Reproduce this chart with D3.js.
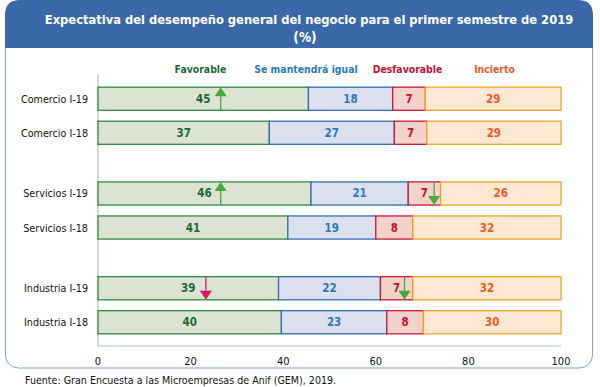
<!DOCTYPE html>
<html>
<head>
<meta charset="utf-8">
<script src="https://cdn.jsdelivr.net/npm/d3@7"></script>
<style>
  body { margin:0; background:#fff; }
  svg text { font-family:"DejaVu Sans Condensed","DejaVu Sans",sans-serif; }
</style>
</head>
<body>
<div id="chart-area"></div>
<script>
// data
var sectors = ["Comercio","Servicios","Industria"];
var periods = ["I-19","I-18"];
var seriesNames = ["Favorable","Se mantendrá igual","Desfavorable","Incierto"];
var favorable    = [45,37,46,41,39,40];
var igual        = [18,27,21,19,22,23];
var desfavorable = [7,7,7,8,7,8];
var incierto     = [29,29,26,32,32,30];
var xTicks = [0,20,40,60,80,100];
// change arrows (row, position on axis, direction, good/bad)
var arrowRows = ["Comercio I-19","Servicios I-19","Servicios I-19","Industria I-19","Industria I-19"];
var arrowAt   = [26.5,26.5,72.6,23.3,66.2];
var arrowDir  = ["up","up","down","down","down"];
var arrowKind = ["good","good","good","bad","good"];

var W=600,H=387;
var svg=d3.select("#chart-area").append("svg").attr("width",W).attr("height",H);

// frame + header
svg.append("rect").attr("x",5.5).attr("y",4).attr("width",587).attr("height",364)
   .attr("rx",13).attr("fill","#fff").attr("stroke","#7f9fd0").attr("stroke-width",1);
var r=15, hx0=5, hx1=593, hy=48;
svg.append("path")
   .attr("d","M"+hx0+","+hy+" V"+r+" Q"+hx0+",0 "+(hx0+r)+",0 H"+(hx1-r)+" Q"+hx1+",0 "+hx1+","+r+" V"+hy+" Z")
   .attr("fill","#3b68a8");
svg.append("text").attr("x",309).attr("y",24).attr("text-anchor","middle")
   .attr("fill","#fff").style("font-size","12.8px").style("font-weight","bold")
   .text("Expectativa del desempeño general del negocio para el primer semestre de 2019");
svg.append("text").attr("x",305).attr("y",42).attr("text-anchor","middle")
   .attr("fill","#fff").style("font-size","13.5px").style("font-weight","bold")
   .text("(%)");

// rows
var rows=[];
sectors.forEach(function(s,i){
  periods.forEach(function(p,j){
    var k=i*2+j;
    rows.push({sector:s,period:p,name:s+" "+p,
      "Favorable":favorable[k],"Se mantendrá igual":igual[k],
      "Desfavorable":desfavorable[k],"Incierto":incierto[k]});
  });
});

var x=d3.scaleLinear().domain([0,100]).range([98,561]);
var y0=d3.scaleBand().domain(sectors).range([75,346]).paddingInner(0.3).paddingOuter(0.08);
var y1=d3.scaleBand().domain(periods).range([0,y0.bandwidth()]).paddingInner(0.32).paddingOuter(0.135);
function rowY(d){ return y0(d.sector)+y1(d.period); }

var fills=d3.scaleOrdinal().domain(seriesNames).range(["#dce3d3","#dcdfed","#f2d3cc","#fde9d3"]);
var strokes=d3.scaleOrdinal().domain(seriesNames).range(["#2e8a3e","#2f6fb3","#c8183a","#f5a326"]);
var textCol=d3.scaleOrdinal().domain(seriesNames).range(["#1b6b36","#2a7bbd","#c4122f","#f15a24"]);

var stack=d3.stack().keys(seriesNames).offset(d3.stackOffsetExpand);
var series=stack(rows);

// axes lines
svg.append("line").attr("x1",x(0)).attr("x2",x(0)).attr("y1",74).attr("y2",346)
   .attr("stroke","#a9bfe0").attr("stroke-width",1.2);
svg.append("line").attr("x1",x(0)).attr("x2",x(100)).attr("y1",346).attr("y2",346)
   .attr("stroke","#a9bfe0").attr("stroke-width",1.2);

var g=svg.append("g");
series.forEach(function(ser){
  g.selectAll(null).data(ser).enter().append("rect")
   .attr("x",function(d){ return x(d[0]*100); })
   .attr("width",function(d){ return x(d[1]*100)-x(d[0]*100); })
   .attr("y",function(d){ return rowY(d.data); })
   .attr("height",y1.bandwidth())
   .attr("fill",fills(ser.key))
   .attr("stroke",strokes(ser.key))
   .attr("stroke-width",1.3);
  g.selectAll(null).data(ser).enter().append("text")
   .attr("x",function(d){ return (x(d[0]*100)+x(d[1]*100))/2; })
   .attr("y",function(d){ return rowY(d.data)+y1.bandwidth()/2+4; })
   .attr("text-anchor","middle")
   .style("font-size","11.5px").style("font-weight","bold")
   .attr("fill",textCol(ser.key))
   .text(function(d){ return d.data[ser.key]; });
});

// category labels
svg.selectAll(".cat").data(rows).enter().append("text").attr("class","cat")
   .attr("x",88).attr("y",function(d){ return rowY(d)+y1.bandwidth()/2+4; })
   .attr("text-anchor","end").style("font-size","10.7px").attr("fill","#111")
   .text(function(d){ return d.name; });

// legend
var legX=[200.5,306,407.5,494.5];
svg.selectAll(".leg").data(seriesNames).enter().append("text").attr("class","leg")
   .attr("x",function(d,i){ return legX[i]; }).attr("y",73)
   .attr("text-anchor","middle").style("font-size","10.4px").style("font-weight","bold")
   .attr("fill",function(d){ return textCol(d); })
   .text(function(d){ return d; });

// x tick labels
svg.selectAll(".tick").data(xTicks).enter().append("text").attr("class","tick")
   .attr("x",function(d){ return x(d); }).attr("y",365)
   .attr("text-anchor","middle").style("font-size","11px").attr("fill","#111")
   .text(function(d){ return d; });

// arrows
var byName={};
rows.forEach(function(d){ byName[d.name]=d; });
arrowRows.forEach(function(nm,i){
  var d=byName[nm], top=rowY(d), bot=top+y1.bandwidth(), cx=x(arrowAt[i]);
  var col=arrowKind[i]=="good"?"#4aa83c":"#d8195f";
  var th=9, tw=6;
  if(arrowDir[i]=="up"){
    svg.append("line").attr("x1",cx).attr("x2",cx).attr("y1",top+th).attr("y2",bot)
       .attr("stroke",col).attr("stroke-width",1.3);
    svg.append("path").attr("d","M"+cx+","+top+" L"+(cx+tw)+","+(top+th)+" L"+(cx-tw)+","+(top+th)+" Z")
       .attr("fill",col);
  } else {
    svg.append("line").attr("x1",cx).attr("x2",cx).attr("y1",top).attr("y2",bot-th)
       .attr("stroke",col).attr("stroke-width",1.3);
    svg.append("path").attr("d","M"+cx+","+bot+" L"+(cx+tw)+","+(bot-th)+" L"+(cx-tw)+","+(bot-th)+" Z")
       .attr("fill",col);
  }
});

// source
svg.append("text").attr("x",25).attr("y",384).style("font-size","10.6px").attr("fill","#111")
   .text("Fuente: Gran Encuesta a las Microempresas de Anif (GEM), 2019.");
</script>
</body>
</html>
